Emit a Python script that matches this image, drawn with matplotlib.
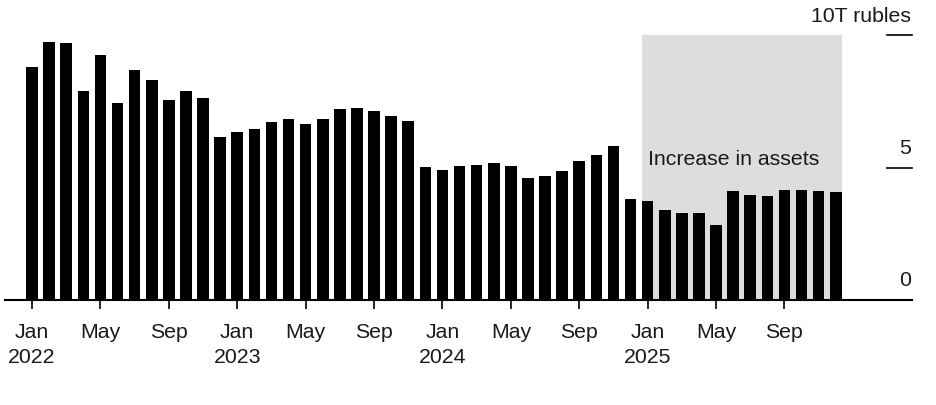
import matplotlib
matplotlib.use("Agg")
import matplotlib.pyplot as plt
import numpy as np

plt.rcParams['font.family'] = ['Liberation Sans', 'DejaVu Sans']

months = [f"{y}-{m:02d}" for y in (2022, 2023, 2024, 2025) for m in range(1, 13)]
values = [
    8.78, 9.75, 9.71, 7.89, 9.25, 7.43, 8.68, 8.30, 7.54, 7.89, 7.61, 6.14,
    6.34, 6.45, 6.72, 6.83, 6.64, 6.82, 7.20, 7.26, 7.14, 6.93, 6.74, 5.01,
    4.91, 5.04, 5.09, 5.17, 5.04, 4.60, 4.67, 4.86, 5.26, 5.46, 5.80, 3.81,
    3.75, 3.40, 3.27, 3.30, 2.84, 4.13, 3.95, 3.92, 4.16, 4.16, 4.11, 4.09,
]
tick_months = ["2022-01", "2022-05", "2022-09", "2023-01", "2023-05", "2023-09",
               "2024-01", "2024-05", "2024-09", "2025-01", "2025-05", "2025-09"]
tick_labels = ["Jan\n2022", "May", "Sep", "Jan\n2023", "May", "Sep",
               "Jan\n2024", "May", "Sep", "Jan\n2025", "May", "Sep"]
y_ticks = [5, 10]
y_labels = ["0", "5", "10T rubles"]
shade_start, shade_end = "2025-01", "2025-12"
annotation = "Increase in assets"

FS = 15.3
W, H = 937, 406
fig = plt.figure(figsize=(W / 100, H / 100), dpi=100)
ax = fig.add_axes([5 / W, (H - 301) / H, (912 - 5) / W, (301 - 30) / H])

x = np.arange(len(months))
bw = 0.68
ax.bar(x, values, width=bw, color="black", zorder=3)

s0 = months.index(shade_start) - bw / 2
s1 = months.index(shade_end) + bw / 2
ax.fill_between([s0, s1], 0, 10, color="#dddddd", zorder=1, linewidth=0)
ax.text(months.index(shade_start) + 0.02, 5.36, annotation, fontsize=FS,
        ha="left", va="center", color="#1a1a1a", zorder=4)

ax.set_xlim(-1.58, 51.46)
ax.set_ylim(0, 10.23)

for s in ["top", "right", "left"]:
    ax.spines[s].set_visible(False)
ax.spines["bottom"].set_linewidth(1.5)
ax.spines["bottom"].set_zorder(5)
ax.set_yticks([])

ax.set_xticks([months.index(m) for m in tick_months])
ax.set_xticklabels(tick_labels, fontsize=FS, color="#1a1a1a")
ax.tick_params(axis="x", length=6.5, width=1.2, direction="out", pad=9)
for lbl in ax.get_xticklabels():
    lbl.set_linespacing(1.45)
    lbl.set_va("top")

# right-hand y ticks and labels
xr0, xr1 = (887 - 32) / 17.1, 51.45
for yv in y_ticks:
    ax.plot([xr0, xr1], [yv, yv], color="black", linewidth=1.2, clip_on=False, zorder=5)
label_y = [0.79, 5.77, 10.75]
for yl, txt in zip(label_y, y_labels):
    ax.text(51.42, yl, txt, fontsize=FS, ha="right", va="center",
            color="#1a1a1a", clip_on=False)

fig.savefig("out.png", dpi=100)
